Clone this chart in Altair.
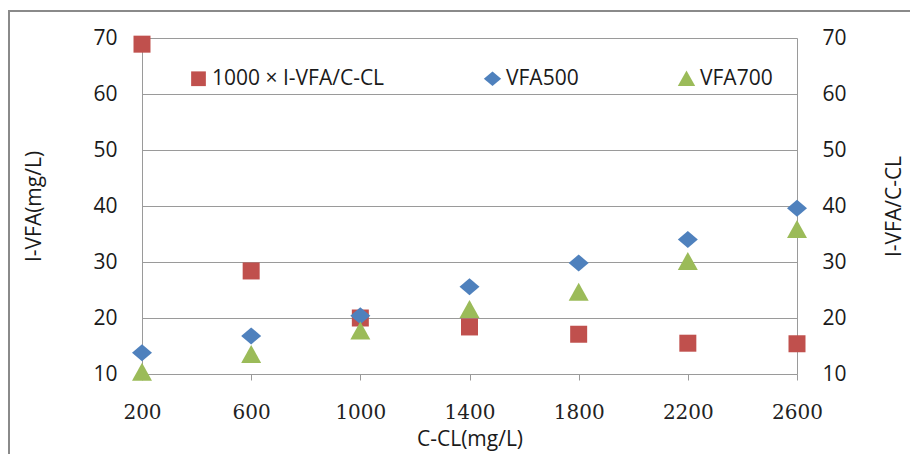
import altair as alt
import pandas as pd

x_vals = [200, 600, 1000, 1400, 1800, 2200, 2600]
ratio = [68.9, 28.4, 20.0, 18.4, 17.1, 15.5, 15.4]
vfa500 = [13.8, 16.8, 20.4, 25.6, 29.8, 34.0, 39.6]
vfa700 = [10.3, 13.5, 17.7, 21.5, 24.6, 30.1, 35.8]
series_names = ["1000 × I-VFA/C-CL", "VFA500", "VFA700"]
colors = ["#C0504D", "#4F81BD", "#9BBB59"]
shapes = [
    "M-0.85,-0.85H0.85V0.85H-0.85Z",
    "M-1,0L0,-0.85L1,0L0,0.85Z",
    "M0,-0.95L1,0.85L-1,0.85Z",
]
x_ticks = [200, 600, 1000, 1400, 1800, 2200, 2600]
y_ticks = [10, 20, 30, 40, 50, 60, 70]

rows = []
for name, vals in zip(series_names, [ratio, vfa500, vfa700]):
    for xv, yv in zip(x_vals, vals):
        rows.append({"x": xv, "y": yv, "series": name})
df = pd.DataFrame(rows)

xs = alt.Scale(domain=[200, 2600], nice=False, zero=False)
ys = alt.Scale(domain=[10, 70], nice=False, zero=False)
SANS = "Open Sans"
TXT = "#1a1a1a"
FS = 21

x_axis = alt.Axis(
    values=x_ticks, format="d", title="C-CL(mg/L)", grid=False, domain=False,
    ticks=True, tickSize=6, tickColor="#9a9a9a", labelFlush=False,
    labelFont="DejaVu Serif", labelFontSize=20, labelColor="#222222",
    labelPadding=22, titleFont=SANS, titleFontSize=FS, titleFontWeight="normal",
    titleColor=TXT, titlePadding=6)

points = alt.Chart(df).mark_point(filled=True, opacity=1, size=400).encode(
    x=alt.X("x:Q", scale=xs, axis=x_axis),
    y=alt.Y("y:Q", scale=ys, axis=alt.Axis(
        values=y_ticks, title="I-VFA(mg/L)", orient="left", grid=True,
        gridColor="#9a9a9a", gridWidth=1, domain=True, domainColor="#9a9a9a",
        ticks=False, labelFont=SANS, labelFontSize=FS, labelColor=TXT,
        labelPadding=25, titleFont=SANS, titleFontSize=FS, titleFontWeight="normal",
        titleColor=TXT, titlePadding=48)),
    color=alt.Color("series:N", scale=alt.Scale(domain=series_names, range=colors),
                    legend=alt.Legend(title=None, orient="none", direction="horizontal",
                                      legendX=46, legendY=30, columnPadding=97,
                                      labelLimit=0,
                                      labelFont=SANS, labelFontSize=FS, labelColor=TXT,
                                      symbolSize=300, symbolStrokeWidth=0, labelOffset=3)),
    shape=alt.Shape("series:N", scale=alt.Scale(domain=series_names, range=shapes), legend=None),
)

right = alt.Chart(df).mark_point(opacity=0).encode(
    x=alt.X("x:Q", scale=xs, axis=x_axis),
    y=alt.Y("y:Q", scale=ys, axis=alt.Axis(
        values=y_ticks, title="I-VFA/C-CL", orient="right", grid=False,
        domain=True, domainColor="#9a9a9a", ticks=False,
        labelFont=SANS, labelFontSize=FS, labelColor=TXT, labelPadding=25,
        titleFont=SANS, titleFontSize=FS, titleFontWeight="normal", titleAngle=270,
        titleColor=TXT, titlePadding=58)),
)

frame = alt.Chart(pd.DataFrame({"a": [0]})).mark_rect(
    fill=None, stroke="#8a8a8a", strokeWidth=2).encode(
    x=alt.value(-133), x2=alt.value(900), y=alt.value(-27), y2=alt.value(600))

chart = alt.layer(frame, points, right).resolve_scale(y="independent").properties(
    width=655, height=336, autosize=alt.AutoSizeParams(type="none"),
    padding={"left": 134, "top": 30, "right": 113, "bottom": 80},
).configure_view(stroke=None).configure(background="white")

chart.save("out.html", embed_options={"renderer": "svg", "actions": False})
